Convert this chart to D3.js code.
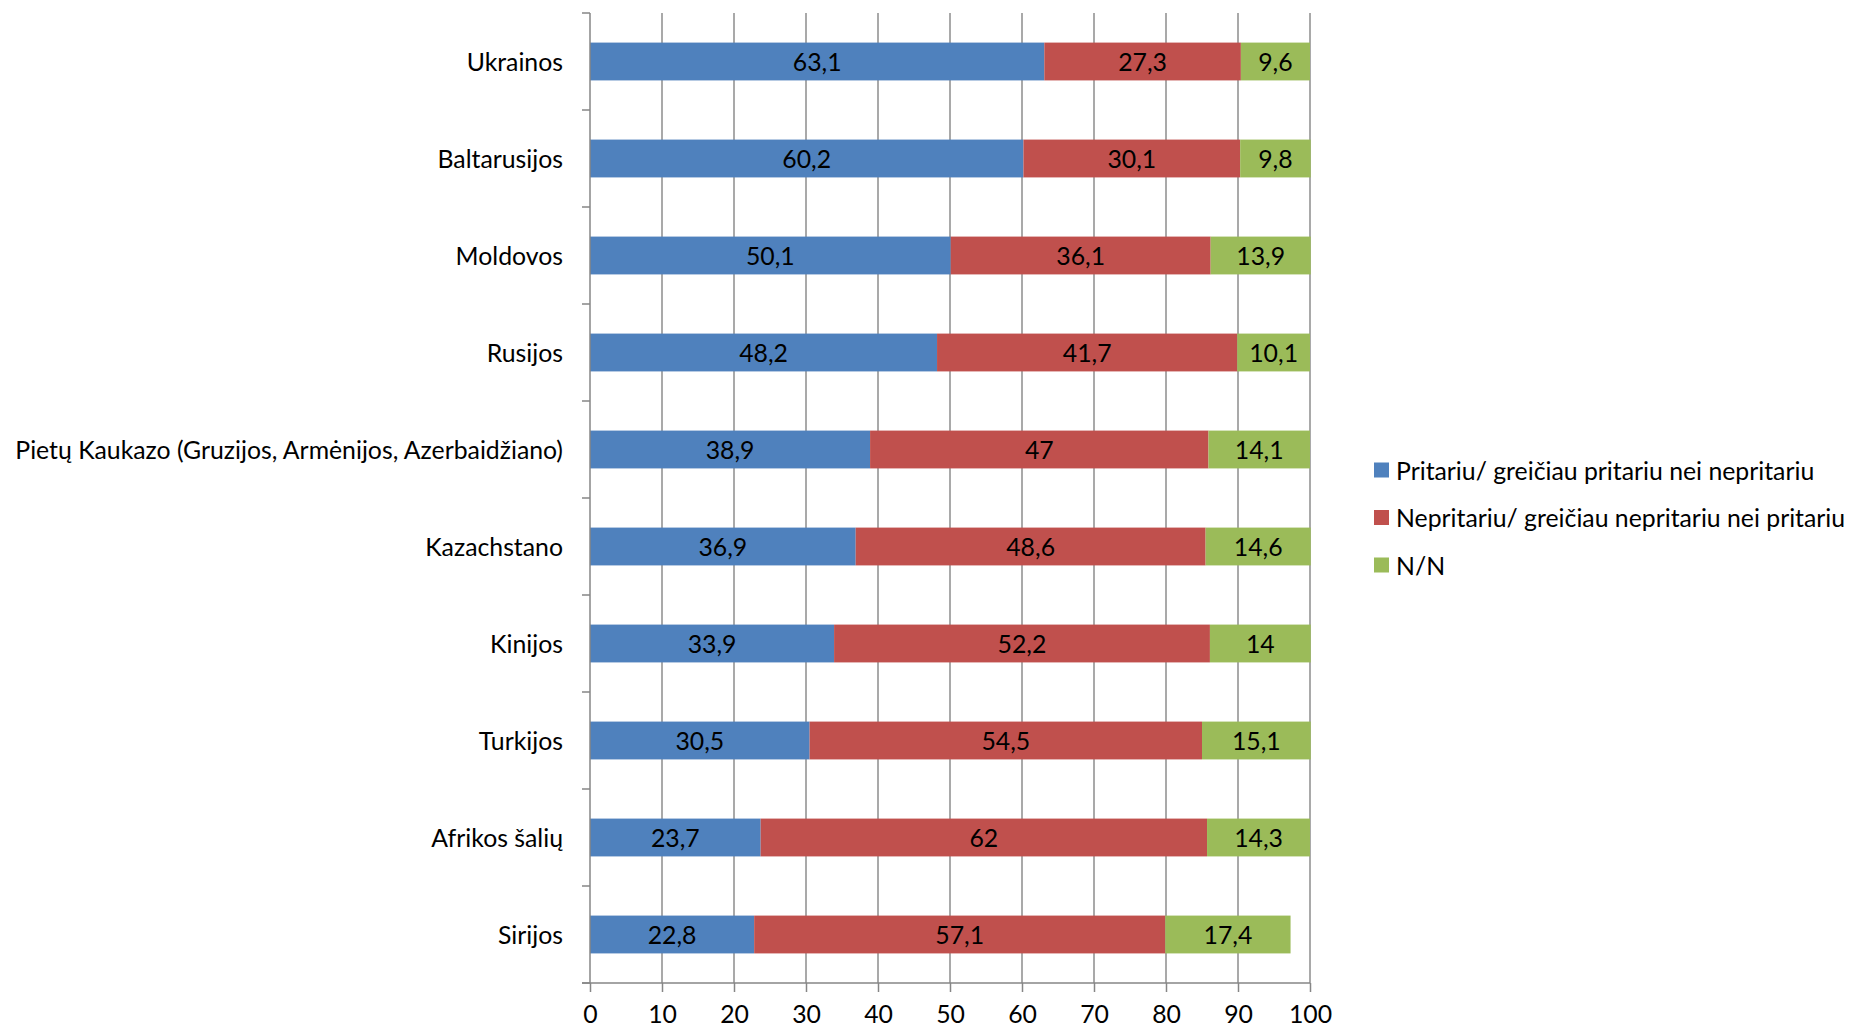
<!DOCTYPE html>
<html>
<head>
<meta charset="utf-8">
<script src="https://cdn.jsdelivr.net/npm/d3@7"></script>
<style>
  body { margin: 0; background: #fff; }
  text { font-family: Lato, "Open Sans", sans-serif; fill: #000; }
</style>
</head>
<body>
<div class="chart"></div>
<script>
// data
var countries = ["Ukrainos", "Baltarusijos", "Moldovos", "Rusijos",
  "Pietų Kaukazo (Gruzijos, Armėnijos, Azerbaidžiano)", "Kazachstano",
  "Kinijos", "Turkijos", "Afrikos šalių", "Sirijos"];
var approve = [63.1, 60.2, 50.1, 48.2, 38.9, 36.9, 33.9, 30.5, 23.7, 22.8];
var disapprove = [27.3, 30.1, 36.1, 41.7, 47, 48.6, 52.2, 54.5, 62, 57.1];
var dontKnow = [9.6, 9.8, 13.9, 10.1, 14.1, 14.6, 14, 15.1, 14.3, 17.4];
var seriesNames = ["Pritariu/ greičiau pritariu nei nepritariu",
  "Nepritariu/ greičiau nepritariu nei pritariu", "N/N"];
var xTicks = [0, 10, 20, 30, 40, 50, 60, 70, 80, 90, 100];

var colors = ["#4F81BD", "#C0504D", "#9BBB59"];
var fontSize = "24.8px";

// plot dimensions
var svgWidth = 1851;
var svgHeight = 1029;
var margin = { top: 13, left: 590 };
var width = 720;
var height = 970;

var svg = d3.select(".chart")
  .append("svg")
  .attr("width", svgWidth)
  .attr("height", svgHeight);

var chartGroup = svg.append("g")
  .attr("transform", `translate(${margin.left}, ${margin.top})`);

var xScale = d3.scaleLinear().domain([0, 100]).range([0, width]);
var yScale = d3.scaleBand().domain(countries).range([0, height])
  .paddingInner(0.61).paddingOuter(0.305);

// vertical gridlines
chartGroup.append("g")
  .selectAll("line")
  .data(xTicks.slice(1))
  .enter()
  .append("line")
  .attr("x1", d => xScale(d))
  .attr("x2", d => xScale(d))
  .attr("y1", 0)
  .attr("y2", height)
  .attr("stroke", "#8c8c8c")
  .attr("stroke-width", 1.5);

// build stacked rows
var rows = countries.map((c, i) => ({
  country: c,
  vals: [approve[i], disapprove[i], dontKnow[i]]
}));

var rowGroups = chartGroup.selectAll(".row")
  .data(rows)
  .enter()
  .append("g")
  .attr("class", "row")
  .attr("transform", d => `translate(0, ${yScale(d.country)})`);

rowGroups.each(function (d) {
  var g = d3.select(this);
  var start = 0;
  d.vals.forEach((v, k) => {
    g.append("rect")
      .attr("x", xScale(start))
      .attr("y", 0)
      .attr("width", xScale(start + v) - xScale(start))
      .attr("height", yScale.bandwidth())
      .attr("fill", colors[k]);
    g.append("text")
      .attr("x", xScale(start + v / 2))
      .attr("y", yScale.bandwidth() / 2)
      .attr("dy", "0.4em")
      .attr("text-anchor", "middle")
      .style("font-size", fontSize)
      .text(String(v).replace(".", ","));
    start += v;
  });
});

// y axis line with band separator ticks
var axisColor = "#868686";
chartGroup.append("line")
  .attr("x1", 0).attr("x2", 0)
  .attr("y1", 0).attr("y2", height)
  .attr("stroke", axisColor)
  .attr("stroke-width", 1.5);

var sepData = d3.range(countries.length + 1);
chartGroup.append("g")
  .selectAll("line")
  .data(sepData)
  .enter()
  .append("line")
  .attr("x1", -8).attr("x2", 0)
  .attr("y1", d => d * yScale.step())
  .attr("y2", d => d * yScale.step())
  .attr("stroke", axisColor)
  .attr("stroke-width", 1.5);

// category labels
chartGroup.append("g")
  .selectAll("text")
  .data(countries)
  .enter()
  .append("text")
  .attr("x", -27)
  .attr("y", d => yScale(d) + yScale.bandwidth() / 2)
  .attr("dy", "0.4em")
  .attr("text-anchor", "end")
  .style("font-size", fontSize)
  .text(d => d);

// x axis
var xAxis = chartGroup.append("g")
  .attr("transform", `translate(0, ${height})`)
  .call(d3.axisBottom(xScale).tickValues(xTicks).tickSize(9).tickPadding(13));

xAxis.select(".domain")
  .attr("stroke", axisColor)
  .attr("stroke-width", 1.5)
  .attr("d", `M-8,0H${width}`);
xAxis.selectAll(".tick line").attr("stroke", axisColor).attr("stroke-width", 1.5);
xAxis.selectAll(".tick text")
  .style("font-size", fontSize)
  .style("font-family", "Lato, 'Open Sans', sans-serif")
  .attr("fill", "#000");

// legend
var legend = svg.append("g")
  .attr("transform", "translate(1374, 470)");

var legendItems = legend.selectAll("g")
  .data(seriesNames)
  .enter()
  .append("g")
  .attr("transform", (d, i) => `translate(0, ${i * 47.5})`);

legendItems.append("rect")
  .attr("x", 0)
  .attr("y", -7.5)
  .attr("width", 15)
  .attr("height", 15)
  .attr("fill", (d, i) => colors[i]);

legendItems.append("text")
  .attr("x", 22)
  .attr("y", 0)
  .attr("dy", "0.4em")
  .style("font-size", fontSize)
  .text(d => d);
</script>
</body>
</html>
